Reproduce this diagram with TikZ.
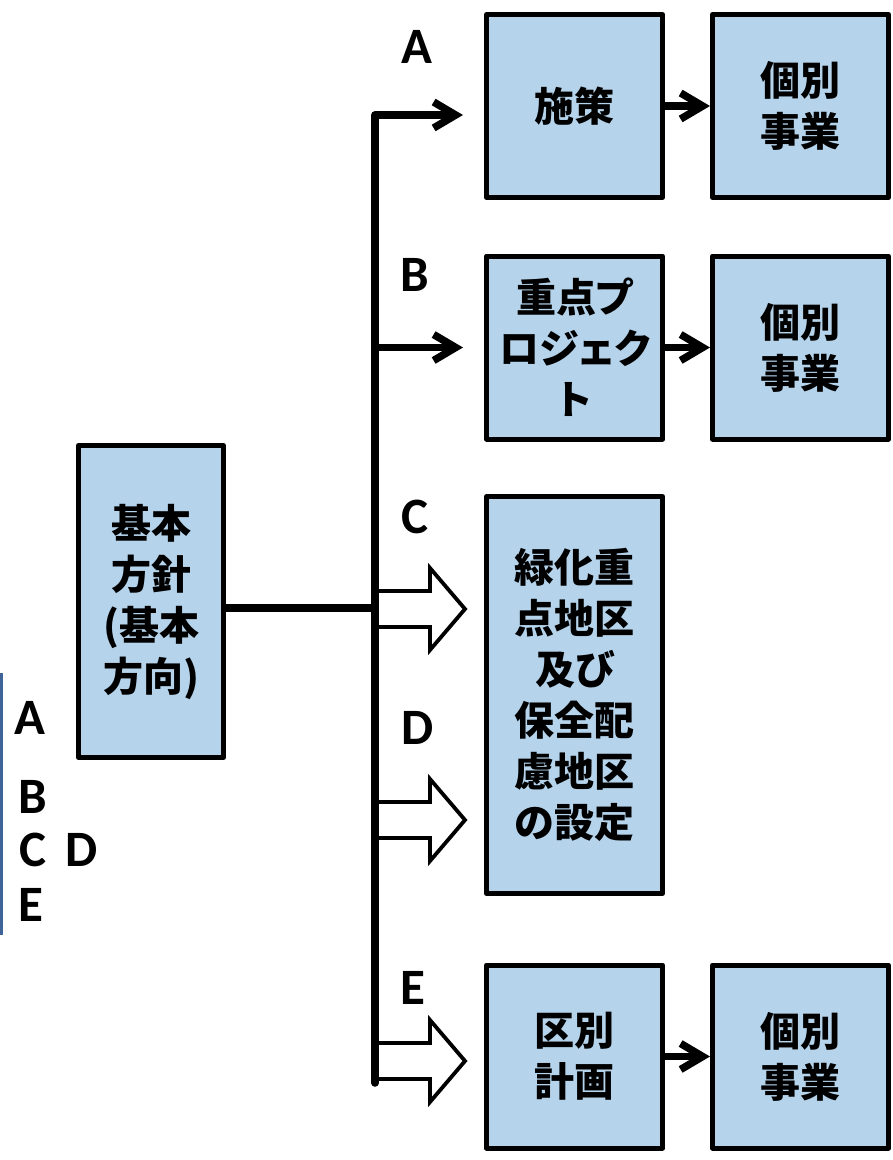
\documentclass[tikz,border=0pt]{standalone}
\usepackage{fontspec}
\setmainfont{Carlito}
\newfontfamily\jp[RawFeature=+palt]{Noto Sans CJK JP}
\usetikzlibrary{arrows.meta}
\usetikzlibrary{positioning}
\definecolor{boxblue}{RGB}{181,212,236}
\definecolor{keyblue}{RGB}{63,100,152}
\tikzset{
  box/.style={draw=black, line width=5pt, fill=boxblue, minimum width=176pt, minimum height=183pt,
    inner sep=0pt, align=center, font=\jp\bfseries\fontsize{40}{51}\selectfont},
  lbl/.style={inner sep=0pt, font=\bfseries\fontsize{51}{51}\selectfont},
  trunk/.style={draw=black, line width=7.5pt},
  blk/.style={draw=black, fill=white, line width=3.8pt, line join=miter},
  keyline/.style={draw=keyblue, line width=3pt, line cap=butt}
}
\begin{document}
\begin{tikzpicture}[x=1pt,y=-1pt, line cap=round, line join=round, >={Straight Barb[length=22pt,width=26pt]}]
\useasboundingbox (0,0) rectangle (893,1160);
% boxes
\node[box, minimum width=145pt, minimum height=312pt] (hoshin) at (151,601.5) {基本\\方針\\(基本\\方向)};
\node[box] (shisaku) at (574.5,106) {施策};
\node[box] (kobetsuA) at (800.5,106) {個別\\事業};
\node[box] (juten) at (574.5,347.5) {重点プ\\ロジェク\\ト};
\node[box] (kobetsuB) at (800.5,347.5) {個別\\事業};
\node[box, minimum height=397pt] (ryokka) at (574.5,695) {緑化重\\点地区\\及び\\保全配\\慮地区\\の設定};
\node[box] (kubetsu) at (574.5,1056.5) {区別\\計画};
\node[box] (kobetsuE) at (800.5,1056.5) {個別\\事業};
% trunk points
\coordinate (top) at (375,115);
\coordinate (bot) at (375,1083);
\coordinate (jct) at (375,608);
\coordinate (cC) at (375,609);
\coordinate (cD) at (375,820);
\coordinate (cE) at (375,1061);
% block arrows
\draw[blk] (cC) ++(0,-18) -- ++(55,0) -- ++(0,-23) -- ++(35,41) -- ++(-35,41) -- ++(0,-23) -- ++(-55,0);
\draw[blk] (cD) ++(0,-18) -- ++(55,0) -- ++(0,-23) -- ++(35,41) -- ++(-35,41) -- ++(0,-23) -- ++(-55,0);
\draw[blk] (cE) ++(0,-18) -- ++(55,0) -- ++(0,-23) -- ++(35,41) -- ++(-35,41) -- ++(0,-23) -- ++(-55,0);
% trunk and arrows
\draw[trunk, ->, shorten >=21pt] (bot) -- (top) -- (shisaku.west |- top);
\draw[trunk, ->, shorten >=21pt] (top |- juten) -- (juten.west);
\draw[trunk] (hoshin.east |- jct) -- (jct);
\draw[trunk, ->] (shisaku) -- (kobetsuA);
\draw[trunk, ->] (juten) -- (kobetsuB);
\draw[trunk, ->] (kubetsu) -- (kobetsuE);
% labels
\node[lbl] (labA) at (417,47) {A};
\node[lbl] (labB) at (415,275) {B};
\node[lbl] (labC) at (415,517) {C};
\node[lbl] (labD) at (418,728) {D};
\node[lbl] (labE) at (413,988) {E};
% key on the left
\draw[keyline] (1,673) -- (1,935);
\node[lbl] (keyA) at (30,718) {A};
\node[lbl] (keyB) at (33,797) {B};
\node[lbl] (keyC) at (33,850) {C};
\node[lbl] (keyD) at (82,850) {D};
\node[lbl] (keyE) at (31,905) {E};
\end{tikzpicture}
\end{document}
